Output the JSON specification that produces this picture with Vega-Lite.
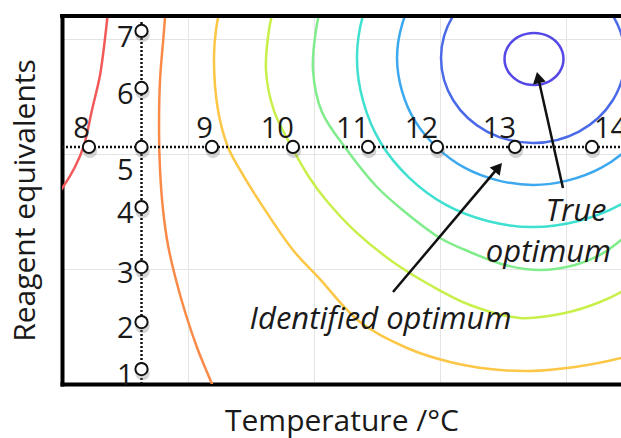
{
  "$schema": "https://vega.github.io/schema/vega-lite/v6.json",
  "width": 559,
  "height": 368,
  "autosize": {"type": "none"},
  "padding": {"left": 62, "top": 16, "right": 0, "bottom": 54},
  "background": "white",
  "config": {"view": {"stroke": null}, "font": "Open Sans"},
  "datasets": {
    "rings": [
      {"level": 1, "seq": 0, "x": 3.980, "y": 2.826}, {"level": 1, "seq": 1, "x": 3.949, "y": 2.713},
      {"level": 1, "seq": 2, "x": 3.863, "y": 2.630}, {"level": 1, "seq": 3, "x": 3.746, "y": 2.600},
      {"level": 1, "seq": 4, "x": 3.629, "y": 2.630}, {"level": 1, "seq": 5, "x": 3.543, "y": 2.713},
      {"level": 1, "seq": 6, "x": 3.512, "y": 2.826}, {"level": 1, "seq": 7, "x": 3.543, "y": 2.939},
      {"level": 1, "seq": 8, "x": 3.629, "y": 3.022}, {"level": 1, "seq": 9, "x": 3.746, "y": 3.052},
      {"level": 1, "seq": 10, "x": 3.863, "y": 3.022}, {"level": 1, "seq": 11, "x": 3.949, "y": 2.939},
      {"level": 2, "seq": 0, "x": 4.468, "y": 2.835}, {"level": 2, "seq": 1, "x": 4.370, "y": 2.465},
      {"level": 2, "seq": 2, "x": 4.103, "y": 2.195}, {"level": 2, "seq": 3, "x": 3.738, "y": 2.096},
      {"level": 2, "seq": 4, "x": 3.373, "y": 2.195}, {"level": 2, "seq": 5, "x": 3.106, "y": 2.465},
      {"level": 2, "seq": 6, "x": 3.008, "y": 2.835}, {"level": 2, "seq": 7, "x": 3.106, "y": 3.205},
      {"level": 2, "seq": 8, "x": 3.373, "y": 3.475}, {"level": 2, "seq": 9, "x": 3.738, "y": 3.574},
      {"level": 2, "seq": 10, "x": 4.103, "y": 3.475}, {"level": 2, "seq": 11, "x": 4.370, "y": 3.205},
      {"level": 3, "seq": 0, "x": 4.817, "y": 2.835}, {"level": 3, "seq": 1, "x": 4.672, "y": 2.283},
      {"level": 3, "seq": 2, "x": 4.278, "y": 1.879}, {"level": 3, "seq": 3, "x": 3.738, "y": 1.731},
      {"level": 3, "seq": 4, "x": 3.198, "y": 1.879}, {"level": 3, "seq": 5, "x": 2.804, "y": 2.283},
      {"level": 3, "seq": 6, "x": 2.659, "y": 2.835}, {"level": 3, "seq": 7, "x": 2.804, "y": 3.387},
      {"level": 3, "seq": 8, "x": 3.198, "y": 3.791}, {"level": 3, "seq": 9, "x": 3.738, "y": 3.939},
      {"level": 3, "seq": 10, "x": 4.278, "y": 3.791}, {"level": 3, "seq": 11, "x": 4.672, "y": 3.387},
      {"level": 4, "seq": 0, "x": 5.135, "y": 2.835}, {"level": 4, "seq": 1, "x": 4.948, "y": 2.100},
      {"level": 4, "seq": 2, "x": 4.436, "y": 1.562}, {"level": 4, "seq": 3, "x": 3.738, "y": 1.365},
      {"level": 4, "seq": 4, "x": 3.040, "y": 1.562}, {"level": 4, "seq": 5, "x": 2.528, "y": 2.100},
      {"level": 4, "seq": 6, "x": 2.341, "y": 2.835}, {"level": 4, "seq": 7, "x": 2.528, "y": 3.570},
      {"level": 4, "seq": 8, "x": 3.040, "y": 4.108}, {"level": 4, "seq": 9, "x": 3.738, "y": 4.305},
      {"level": 4, "seq": 10, "x": 4.436, "y": 4.108}, {"level": 4, "seq": 11, "x": 4.948, "y": 3.570}
    ],
    "lines": [
      {"level": 5, "seq": 0, "x": 2.087, "y": 3.426}, {"level": 5, "seq": 1, "x": 2.016, "y": 3.078},
      {"level": 5, "seq": 2, "x": 1.992, "y": 2.730}, {"level": 5, "seq": 3, "x": 2.063, "y": 2.365},
      {"level": 5, "seq": 4, "x": 2.262, "y": 2.035}, {"level": 5, "seq": 5, "x": 2.500, "y": 1.713},
      {"level": 5, "seq": 6, "x": 2.722, "y": 1.496}, {"level": 5, "seq": 7, "x": 3.000, "y": 1.270},
      {"level": 5, "seq": 8, "x": 3.238, "y": 1.148}, {"level": 5, "seq": 9, "x": 3.516, "y": 1.035},
      {"level": 5, "seq": 10, "x": 3.794, "y": 0.991}, {"level": 5, "seq": 11, "x": 4.071, "y": 1.035},
      {"level": 5, "seq": 12, "x": 4.270, "y": 1.122}, {"level": 5, "seq": 13, "x": 4.437, "y": 1.252},
      {"level": 5, "seq": 14, "x": 4.587, "y": 1.409},
      {"level": 6, "seq": 0, "x": 1.714, "y": 3.426}, {"level": 6, "seq": 1, "x": 1.643, "y": 3.078},
      {"level": 6, "seq": 2, "x": 1.619, "y": 2.730}, {"level": 6, "seq": 3, "x": 1.680, "y": 2.383},
      {"level": 6, "seq": 4, "x": 1.849, "y": 2.009}, {"level": 6, "seq": 5, "x": 1.960, "y": 1.800},
      {"level": 6, "seq": 6, "x": 2.095, "y": 1.600}, {"level": 6, "seq": 7, "x": 2.325, "y": 1.330},
      {"level": 6, "seq": 8, "x": 2.627, "y": 1.061}, {"level": 6, "seq": 9, "x": 2.921, "y": 0.861},
      {"level": 6, "seq": 10, "x": 3.238, "y": 0.687}, {"level": 6, "seq": 11, "x": 3.635, "y": 0.574},
      {"level": 6, "seq": 12, "x": 3.992, "y": 0.617}, {"level": 6, "seq": 13, "x": 4.270, "y": 0.713},
      {"level": 6, "seq": 14, "x": 4.437, "y": 0.800}, {"level": 6, "seq": 15, "x": 4.587, "y": 0.904},
      {"level": 7, "seq": 0, "x": 1.286, "y": 3.426}, {"level": 7, "seq": 1, "x": 1.222, "y": 3.078},
      {"level": 7, "seq": 2, "x": 1.206, "y": 2.817}, {"level": 7, "seq": 3, "x": 1.238, "y": 2.383},
      {"level": 7, "seq": 4, "x": 1.317, "y": 2.061}, {"level": 7, "seq": 5, "x": 1.413, "y": 1.861},
      {"level": 7, "seq": 6, "x": 1.548, "y": 1.620}, {"level": 7, "seq": 7, "x": 1.833, "y": 1.165},
      {"level": 7, "seq": 8, "x": 2.040, "y": 0.920}, {"level": 7, "seq": 9, "x": 2.365, "y": 0.539},
      {"level": 7, "seq": 10, "x": 2.738, "y": 0.313}, {"level": 7, "seq": 11, "x": 3.079, "y": 0.191},
      {"level": 7, "seq": 12, "x": 3.397, "y": 0.130}, {"level": 7, "seq": 13, "x": 3.714, "y": 0.113},
      {"level": 7, "seq": 14, "x": 4.071, "y": 0.148}, {"level": 7, "seq": 15, "x": 4.437, "y": 0.226},
      {"level": 7, "seq": 16, "x": 4.587, "y": 0.278},
      {"level": 8, "seq": 0, "x": 0.833, "y": 3.426}, {"level": 8, "seq": 1, "x": 0.810, "y": 3.078},
      {"level": 8, "seq": 2, "x": 0.778, "y": 2.643}, {"level": 8, "seq": 3, "x": 0.770, "y": 2.209},
      {"level": 8, "seq": 4, "x": 0.778, "y": 1.861}, {"level": 8, "seq": 5, "x": 0.802, "y": 1.513},
      {"level": 8, "seq": 6, "x": 0.841, "y": 1.209}, {"level": 8, "seq": 7, "x": 0.905, "y": 0.904},
      {"level": 8, "seq": 8, "x": 0.984, "y": 0.600}, {"level": 8, "seq": 9, "x": 1.079, "y": 0.296},
      {"level": 8, "seq": 10, "x": 1.190, "y": 0.000}, {"level": 8, "seq": 11, "x": 1.270, "y": -0.226},
      {"level": 9, "seq": 0, "x": 0.381, "y": 3.426}, {"level": 9, "seq": 1, "x": 0.349, "y": 3.078},
      {"level": 9, "seq": 2, "x": 0.302, "y": 2.687}, {"level": 9, "seq": 3, "x": 0.238, "y": 2.383},
      {"level": 9, "seq": 4, "x": 0.175, "y": 2.078}, {"level": 9, "seq": 5, "x": 0.103, "y": 1.887},
      {"level": 9, "seq": 6, "x": 0.008, "y": 1.713}, {"level": 9, "seq": 7, "x": -0.135, "y": 1.513}
    ],
    "dots": [
      {"x": 0, "y": 2.061, "x2": 4.4365, "y2": 2.061},
      {"x": 0.631, "y": 0, "x2": 0.631, "y2": 3.165}
    ],
    "frame": [{"x": 0, "y": 3.2, "x2": 4.4365, "y2": 3.2}],
    "arrows": [
      {"name": "identified", "x": 2.627, "y": 0.800, "x2": 3.463, "y2": 1.884},
      {"name": "true", "x": 3.976, "y": 1.704, "x2": 3.779, "y2": 2.665}
    ],
    "heads": [
      {"name": "identified", "x": 3.463, "y": 1.884},
      {"name": "true", "x": 3.779, "y": 2.665}
    ],
    "pts": [
      {"x": 0.214, "y": 2.061, "lab": "8", "grp": "t"},
      {"x": 1.190, "y": 2.061, "lab": "9", "grp": "t"},
      {"x": 1.833, "y": 2.061, "lab": "10", "grp": "t"},
      {"x": 2.429, "y": 2.061, "lab": "11", "grp": "t"},
      {"x": 2.976, "y": 2.061, "lab": "12", "grp": "t"},
      {"x": 3.595, "y": 2.061, "lab": "13", "grp": "t"},
      {"x": 4.206, "y": 2.061, "lab": "14", "grp": "e"},
      {"x": 0.631, "y": 2.061, "lab": "5", "grp": "c"},
      {"x": 0.631, "y": 3.070, "lab": "7", "grp": "r"},
      {"x": 0.631, "y": 2.574, "lab": "6", "grp": "r"},
      {"x": 0.631, "y": 1.539, "lab": "4", "grp": "r"},
      {"x": 0.631, "y": 1.017, "lab": "3", "grp": "r"},
      {"x": 0.631, "y": 0.539, "lab": "2", "grp": "r"},
      {"x": 0.631, "y": 0.130, "lab": "1", "grp": "r"}
    ],
    "notes": [
      {"x": 2.528, "y": 0.480, "txt": "Identified optimum"},
      {"x": 4.079, "y": 1.417, "txt": "True"},
      {"x": 3.861, "y": 1.060, "txt": "optimum"}
    ]
  },
  "encoding": {
    "x": {
      "field": "x", "type": "quantitative",
      "scale": {"domain": [0, 4.4365], "nice": false, "zero": false},
      "axis": {
        "title": "Temperature /°C", "titleFontSize": 30, "titleFontWeight": "normal",
        "titleColor": "#1a1a1a", "titlePadding": 22, "labels": false, "ticks": false,
        "domainColor": "#000000", "domainWidth": 4, "domainCap": "square",
        "grid": true, "gridColor": "#e4e4e4", "gridWidth": 1, "values": [1, 2, 3, 4]
      }
    },
    "y": {
      "field": "y", "type": "quantitative",
      "scale": {"domain": [0, 3.2], "nice": false, "zero": false},
      "axis": {
        "title": "Reagent equivalents", "titleFontSize": 30, "titleFontWeight": "normal",
        "titleColor": "#1a1a1a", "titlePadding": 22, "labels": false, "ticks": false,
        "domainColor": "#000000", "domainWidth": 4, "domainCap": "square",
        "grid": true, "gridColor": "#e4e4e4", "gridWidth": 1, "values": [1, 2, 3]
      }
    }
  },
  "layer": [
    {
      "data": {"name": "rings"},
      "mark": {"type": "line", "interpolate": "cardinal-closed", "strokeWidth": 2.5, "clip": true},
      "encoding": {
        "color": {"field": "level", "type": "nominal", "legend": null,
          "scale": {"domain": [1, 2, 3, 4, 5, 6, 7, 8, 9],
            "range": ["#5548e6", "#4a6ae8", "#3ca8ee", "#3fe0cf", "#80ec8c", "#c9ef4a", "#fcc646", "#fa8a48", "#f25a5a"]}},
        "order": {"field": "seq", "type": "quantitative"}
      }
    },
    {
      "data": {"name": "lines"},
      "mark": {"type": "line", "interpolate": "catmull-rom", "strokeWidth": 2.5, "clip": true},
      "encoding": {
        "color": {"field": "level", "type": "nominal", "legend": null},
        "order": {"field": "seq", "type": "quantitative"}
      }
    },
    {
      "data": {"name": "dots"},
      "mark": {"type": "rule", "color": "#111111", "strokeWidth": 2.5, "strokeDash": [2, 2]},
      "encoding": {"x2": {"field": "x2"}, "y2": {"field": "y2"}}
    },
    {
      "data": {"name": "frame"},
      "mark": {"type": "rule", "color": "#000000", "strokeWidth": 4, "strokeCap": "square"},
      "encoding": {"x2": {"field": "x2"}, "y2": {"field": "y2"}}
    },
    {
      "data": {"name": "arrows"},
      "mark": {"type": "rule", "color": "#111111", "strokeWidth": 2.5},
      "encoding": {"x2": {"field": "x2"}, "y2": {"field": "y2"}}
    },
    {
      "data": {"name": "heads"},
      "transform": [{"filter": "datum.name === 'identified'"}],
      "mark": {"type": "point", "shape": "triangle-up", "filled": true, "color": "#111111", "size": 170, "angle": 40, "opacity": 1}
    },
    {
      "data": {"name": "heads"},
      "transform": [{"filter": "datum.name === 'true'"}],
      "mark": {"type": "point", "shape": "triangle-up", "filled": true, "color": "#111111", "size": 170, "angle": 347.4, "opacity": 1}
    },
    {
      "data": {"name": "pts"},
      "mark": {"type": "point", "shape": "circle", "filled": true, "fill": "#777777", "opacity": 0.3, "size": 210, "strokeWidth": 0, "yOffset": 4, "xOffset": 1}
    },
    {
      "data": {"name": "pts"},
      "mark": {"type": "point", "shape": "circle", "filled": true, "fill": "white", "stroke": "#111111", "strokeWidth": 2, "size": 150, "opacity": 1}
    },
    {
      "data": {"name": "pts"},
      "transform": [{"filter": "datum.grp === 't'"}],
      "mark": {"type": "text", "align": "right", "baseline": "alphabetic", "dx": 1, "dy": -9, "fontSize": 29, "color": "#1a1a1a"},
      "encoding": {"text": {"field": "lab"}}
    },
    {
      "data": {"name": "pts"},
      "transform": [{"filter": "datum.grp === 'e'"}],
      "mark": {"type": "text", "align": "left", "baseline": "alphabetic", "dx": 2, "dy": -9, "fontSize": 29, "color": "#1a1a1a"},
      "encoding": {"text": {"field": "lab"}}
    },
    {
      "data": {"name": "pts"},
      "transform": [{"filter": "datum.grp === 'r'"}],
      "mark": {"type": "text", "align": "right", "baseline": "alphabetic", "dx": -8, "dy": 16, "fontSize": 29, "color": "#1a1a1a"},
      "encoding": {"text": {"field": "lab"}}
    },
    {
      "data": {"name": "pts"},
      "transform": [{"filter": "datum.grp === 'c'"}],
      "mark": {"type": "text", "align": "right", "baseline": "alphabetic", "dx": -8, "dy": 33, "fontSize": 29, "color": "#1a1a1a"},
      "encoding": {"text": {"field": "lab"}}
    },
    {
      "data": {"name": "notes"},
      "mark": {"type": "text", "align": "center", "baseline": "alphabetic", "fontSize": 31, "fontStyle": "italic", "color": "#1a1a1a"},
      "encoding": {"text": {"field": "txt"}}
    }
  ]
}
